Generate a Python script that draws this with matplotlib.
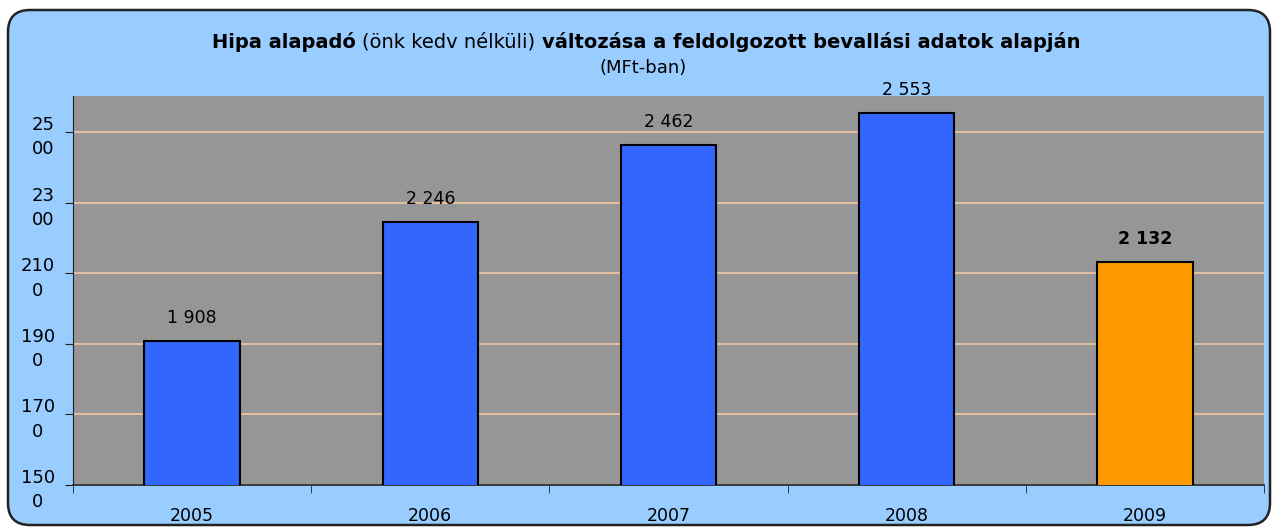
import matplotlib.pyplot as plt
from matplotlib.patches import FancyBboxPatch

years = ['2005', '2006', '2007', '2008', '2009']
values = [1908, 2246, 2462, 2553, 2132]
bar_colors = ['#3366FF', '#3366FF', '#3366FF', '#3366FF', '#FF9900']
yticks = [1500, 1700, 1900, 2100, 2300, 2500]
ytick_labels = ['150\n0', '170\n0', '190\n0', '210\n0', '23\n00', '25\n00']

fig = plt.figure(figsize=(12.76, 5.28), dpi=100)
fig.patch.set_facecolor('white')

# rounded chart border (inches)
box = FancyBboxPatch((0.08, 0.03), 12.62, 5.15,
                     boxstyle='round,pad=0,rounding_size=0.22',
                     transform=fig.dpi_scale_trans, facecolor='#99CCFF',
                     edgecolor='#222222', linewidth=1.8, zorder=-1)
fig.patches.append(box)

ax = fig.add_axes([73/1276, 1 - 485/528, (1264 - 73)/1276, (485 - 96)/528])
ax.set_facecolor('#969696')

x = range(len(years))
ax.bar(x, values, width=0.4, color=bar_colors, edgecolor='black', linewidth=1.5, zorder=3)

for i, v in enumerate(values):
    lab = f'{v // 1000} {v % 1000:03d}'
    ax.text(i, v + 40, lab, ha='center', va='bottom', fontsize=12.5,
            fontweight='bold' if i == 4 else 'normal', zorder=4, clip_on=False)

ax.set_xlim(-0.5, 4.5)
ax.set_ylim(1500, 2602)
ax.set_yticks(yticks)
ax.set_yticklabels(ytick_labels, fontsize=13, multialignment='center', linespacing=1.45)
ax.grid(axis='y', color='#F2C8A0', linewidth=1.2, zorder=1)
ax.set_axisbelow(True)
ax.set_xticks(list(x))
ax.set_xticklabels(years, fontsize=12.5)
ax.set_xticks([i - 0.5 for i in range(len(years) + 1)], minor=True)
ax.tick_params(axis='x', which='major', length=0, pad=16)
ax.tick_params(axis='x', which='minor', length=6, direction='out', color='#222222')
ax.tick_params(axis='y', length=6, direction='out', color='#222222', pad=7)

for s in ['top', 'right']:
    ax.spines[s].set_visible(False)
ax.spines['left'].set_color('#222222')
ax.spines['bottom'].set_color('#222222')
ax.spines['bottom'].set_linewidth(1.2)

# title with mixed weights
parts = [('Hipa alapadó ', 'bold'), ('(önk kedv nélküli) ', 'normal'),
         ('változása a feldolgozott bevallási adatok alapján', 'bold')]
renderer = fig.canvas.get_renderer()
texts = []
total = 0
for s, w in parts:
    t = fig.text(0, 1 - 42/528, s, fontsize=14, fontweight=w, va='center', ha='left')
    wd = t.get_window_extent(renderer).width
    texts.append((t, wd))
    total += wd
xpos = 646 - total / 2
for t, wd in texts:
    t.set_x(xpos / 1276)
    xpos += wd
fig.text(643/1276, 1 - 68/528, '(MFt-ban)', fontsize=13, ha='center', va='center')

fig.savefig('out.png', dpi=100, facecolor='white')
